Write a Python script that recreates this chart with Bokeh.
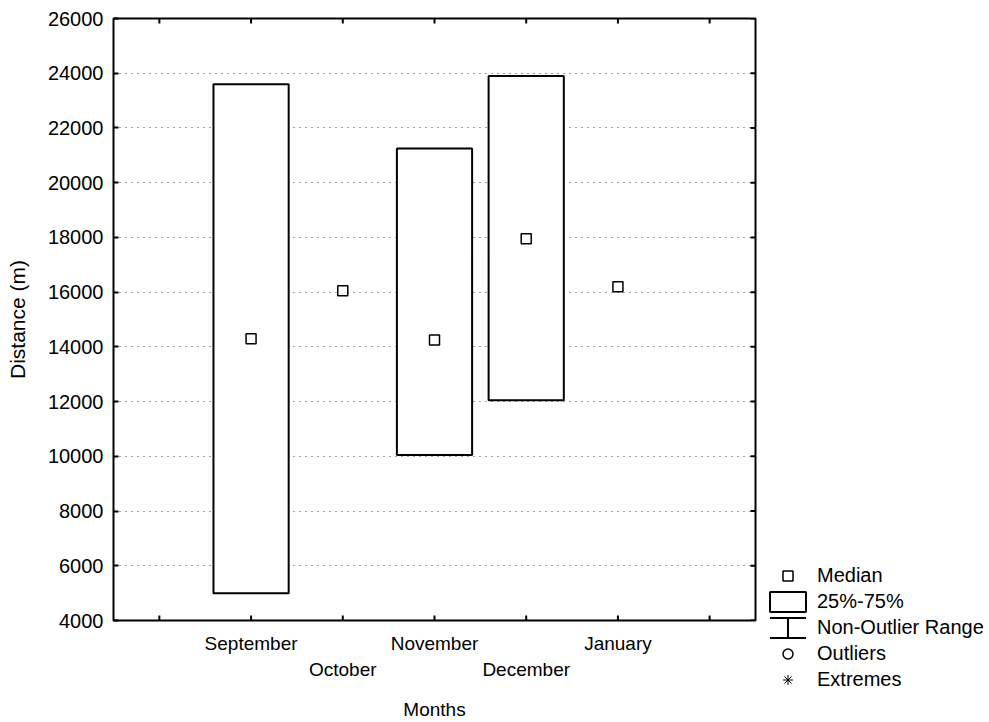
import math
from bokeh.plotting import figure
from bokeh.models import (ColumnDataSource, Range1d, LinearAxis, FixedTicker,
                          Legend, LegendItem)
from bokeh.embed import file_html
from bokeh.resources import INLINE

# ---- data ----
months = ["September", "October", "November", "December", "January"]
positions = [1, 2, 3, 4, 5]
medians = [14300, 16050, 14250, 17950, 16200]
q1 = [5000, math.nan, 10050, 12050, math.nan]
q3 = [23600, math.nan, 21250, 23900, math.nan]
y_ticks = [4000, 6000, 8000, 10000, 12000, 14000, 16000, 18000, 20000,
           22000, 24000, 26000]
x_ticks = [0, 1, 2, 3, 4, 5, 6]
legend_labels = ["Median", "25%-75%", "Non-Outlier Range", "Outliers", "Extremes"]

FONT = "Liberation Sans"
BOX_HALF = 0.41
X0, X1 = -0.5, 6.5
Y0, Y1 = 4000, 26000

p = figure(frame_width=642, frame_height=602, output_backend="svg",
           toolbar_location=None,
           x_range=Range1d(X0, X1), y_range=Range1d(Y0, Y1),
           min_border_left=113, min_border_right=0, min_border_top=18,
           min_border_bottom=102)
p.background_fill_color = "white"
p.border_fill_color = "white"
p.outline_line_color = "black"
p.outline_line_width = 2

# grid
p.xgrid.grid_line_color = None
p.ygrid.ticker = FixedTicker(ticks=y_ticks)
p.ygrid.grid_line_color = "#444444"
p.ygrid.grid_line_dash = "1 5"
p.ygrid.grid_line_width = 1

# boxes (25%-75%)
box_idx = [i for i in range(len(months)) if not math.isnan(q1[i])]
box_src = ColumnDataSource(dict(
    left=[positions[i] - BOX_HALF for i in box_idx],
    right=[positions[i] + BOX_HALF for i in box_idx],
    bottom=[q1[i] for i in box_idx],
    top=[q3[i] for i in box_idx],
))
r_box = p.quad(left="left", right="right", bottom="bottom", top="top", source=box_src,
               fill_color="white", line_color="black", line_width=2)

# medians
med_src = ColumnDataSource(dict(x=positions, y=medians))
r_med = p.scatter("x", "y", source=med_src, marker="square", size=10,
                  fill_color="white", line_color="black", line_width=1.5)

# inward ticks on bottom, top and right frame edges (half clipped by frame)
n_x = len(x_ticks)
n_y = len(y_ticks)
p.scatter(x=x_ticks, y=[Y0] * n_x, marker="dash", angle=math.pi / 2, size=10,
          line_color="black", line_width=2)
p.scatter(x=x_ticks, y=[Y1] * n_x, marker="dash", angle=math.pi / 2, size=10,
          line_color="black", line_width=2)
p.scatter(x=[X1] * n_y, y=y_ticks, marker="dash", size=10,
          line_color="black", line_width=2)

# bottom axis (row 1 labels)
xa = p.xaxis[0]
xa.ticker = FixedTicker(ticks=[positions[0], positions[2], positions[4]])
xa.major_label_overrides = {positions[0]: months[0], positions[2]: months[2],
                            positions[4]: months[4]}
xa.major_tick_in = 0
xa.major_tick_out = 0
xa.minor_tick_in = 0
xa.minor_tick_out = 0
xa.axis_line_color = None
xa.major_label_standoff = 12
xa.major_label_text_font = FONT
xa.major_label_text_font_size = "19px"
xa.major_label_text_color = "black"

# bottom axis (row 2 labels)
xb = LinearAxis(ticker=FixedTicker(ticks=[positions[1], positions[3]]),
                major_label_overrides={positions[1]: months[1], positions[3]: months[3]},
                major_tick_in=0, major_tick_out=0, minor_tick_in=0, minor_tick_out=0,
                axis_line_color=None, major_label_standoff=2,
                major_label_text_font=FONT, major_label_text_font_size="19px",
                major_label_text_color="black",
                axis_label="Months", axis_label_text_font=FONT,
                axis_label_text_font_size="19px", axis_label_text_font_style="normal",
                axis_label_standoff=16, axis_label_text_color="black")
p.add_layout(xb, "below")

# left axis
ya = p.yaxis[0]
ya.ticker = FixedTicker(ticks=y_ticks)
ya.major_tick_in = 5
ya.major_tick_out = 0
ya.major_tick_line_width = 2
ya.minor_tick_in = 0
ya.minor_tick_out = 0
ya.axis_line_color = None
ya.major_label_standoff = 10
ya.major_label_text_font = FONT
ya.major_label_text_font_size = "20px"
ya.major_label_text_color = "black"
ya.axis_label = "Distance (m)"
ya.axis_label_text_font = FONT
ya.axis_label_text_font_size = "21px"
ya.axis_label_text_font_style = "normal"
ya.axis_label_text_color = "black"
ya.axis_label_standoff = 16

# legend-only renderers (placed far outside the visible ranges)
OFF = 1e6
r_wq = p.quad(left=[OFF], right=[OFF + 1], bottom=[OFF], top=[OFF + 1],
              fill_color=None, line_color="black", line_width=2, line_dash="36 20")
r_wv = p.ellipse(x=[OFF], y=[OFF], width=0.0001, height=1000, fill_color=None,
                 line_color="black", line_width=2)
r_out = p.scatter(x=[OFF], y=[OFF], marker="circle", fill_color="white",
                  line_color="black", line_width=1.5)
r_ext = p.scatter(x=[OFF], y=[OFF], marker="asterisk", line_color="black",
                  line_width=1)

legend = Legend(items=[
    LegendItem(label=legend_labels[0], renderers=[r_med]),
    LegendItem(label=legend_labels[1], renderers=[r_box]),
    LegendItem(label=legend_labels[2], renderers=[r_wq, r_wv]),
    LegendItem(label=legend_labels[3], renderers=[r_out]),
    LegendItem(label=legend_labels[4], renderers=[r_ext]),
], location=(10, -72), orientation="vertical", glyph_width=45, glyph_height=25,
    label_standoff=7, spacing=1, padding=5, margin=0, border_line_color=None,
    background_fill_alpha=0, label_text_font=FONT, label_text_font_size="20px",
    label_height=25, label_text_color="black")
p.add_layout(legend, "right")

open("out.html", "w").write(file_html(p, INLINE))
